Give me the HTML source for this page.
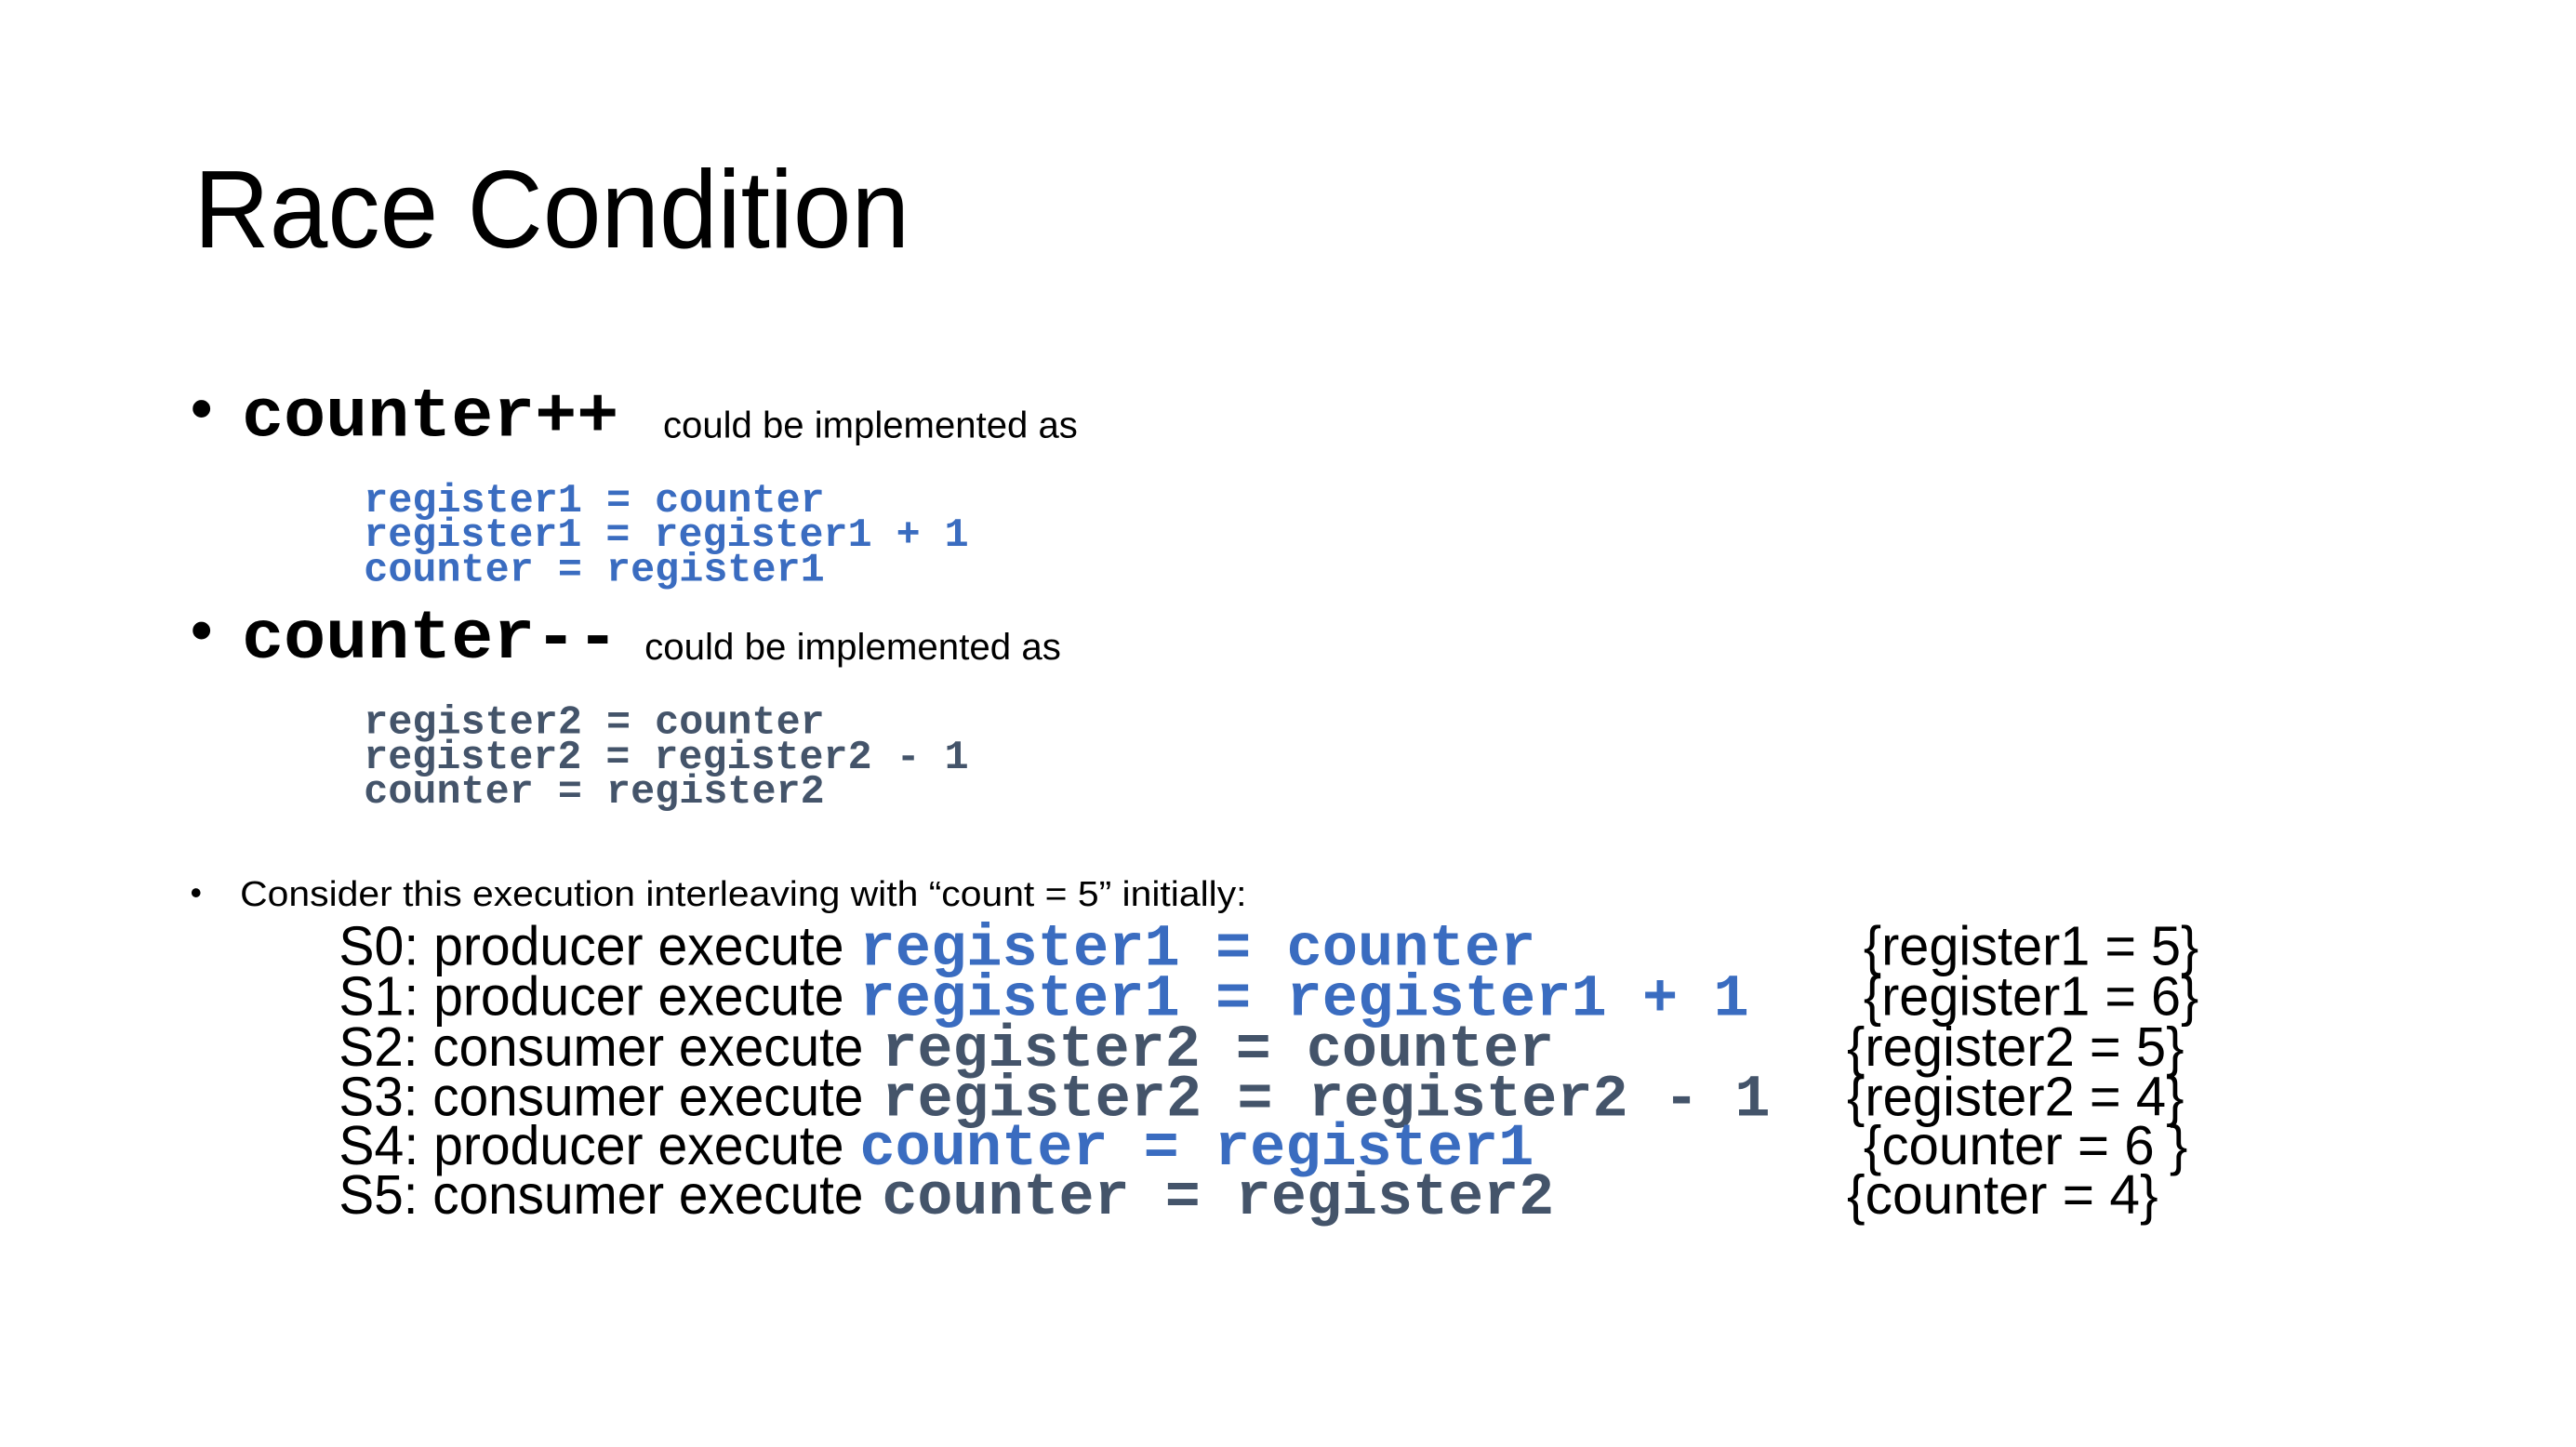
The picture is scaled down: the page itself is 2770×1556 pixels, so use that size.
<!DOCTYPE html>
<html><head><meta charset="utf-8"><style>
html,body{margin:0;padding:0;background:#fff;}
svg{display:block;}
.s{font-family:"Liberation Sans",sans-serif;fill:#000;}
.m{font-family:"Liberation Mono",monospace;font-weight:bold;}
.b{fill:#3a6cc0;}
.g{fill:#44546a;}
</style></head><body>
<svg width="2770" height="1556" viewBox="0 0 2770 1556" xmlns="http://www.w3.org/2000/svg">
<g transform="scale(0.993)">
<text class="s" x="210" y="268" font-size="120" textLength="775" lengthAdjust="spacingAndGlyphs">Race Condition</text>

<text class="s" x="206" y="466" font-size="70">•</text>
<text class="m" x="262" y="472" font-size="75" textLength="408" lengthAdjust="spacingAndGlyphs" fill="#000">counter++</text>
<text class="s" x="718" y="474" font-size="40" textLength="449" lengthAdjust="spacingAndGlyphs">could be implemented as</text>

<text class="m b" x="394" y="554" font-size="44" textLength="499" lengthAdjust="spacingAndGlyphs">register1 = counter</text>
<text class="m b" x="394" y="591" font-size="44" textLength="655" lengthAdjust="spacingAndGlyphs">register1 = register1 + 1</text>
<text class="m b" x="394" y="629" font-size="44" textLength="499" lengthAdjust="spacingAndGlyphs">counter = register1</text>

<text class="s" x="206" y="706" font-size="70">•</text>
<text class="m" x="262" y="712" font-size="75" textLength="408" lengthAdjust="spacingAndGlyphs" fill="#000">counter--</text>
<text class="s" x="698" y="714" font-size="40" textLength="451" lengthAdjust="spacingAndGlyphs">could be implemented as</text>

<text class="m g" x="394" y="794" font-size="44" textLength="499" lengthAdjust="spacingAndGlyphs">register2 = counter</text>
<text class="m g" x="394" y="832" font-size="44" textLength="655" lengthAdjust="spacingAndGlyphs">register2 = register2 - 1</text>
<text class="m g" x="394" y="869" font-size="44" textLength="499" lengthAdjust="spacingAndGlyphs">counter = register2</text>

<text class="s" x="206" y="979" font-size="36">•</text>
<text class="s" x="260" y="981" font-size="38" textLength="1090" lengthAdjust="spacingAndGlyphs">Consider this execution interleaving with “count = 5” initially:</text>

<g font-size="60">
<text class="s" x="367" y="1045" textLength="547" lengthAdjust="spacingAndGlyphs">S0: producer execute</text>
<text class="m b" x="931" y="1045" font-size="64" textLength="732" lengthAdjust="spacingAndGlyphs">register1 = counter</text>
<text class="s" x="2018" y="1045" textLength="363" lengthAdjust="spacingAndGlyphs">{register1 = 5}</text>

<text class="s" x="367" y="1099" textLength="547" lengthAdjust="spacingAndGlyphs">S1: producer execute</text>
<text class="m b" x="931" y="1099" font-size="64" textLength="963" lengthAdjust="spacingAndGlyphs">register1 = register1 + 1</text>
<text class="s" x="2018" y="1099" textLength="363" lengthAdjust="spacingAndGlyphs">{register1 = 6}</text>

<text class="s" x="367" y="1154" textLength="568" lengthAdjust="spacingAndGlyphs">S2: consumer execute</text>
<text class="m g" x="955" y="1154" font-size="64" textLength="728" lengthAdjust="spacingAndGlyphs">register2 = counter</text>
<text class="s" x="2000" y="1154" textLength="365" lengthAdjust="spacingAndGlyphs">{register2 = 5}</text>

<text class="s" x="367" y="1208" textLength="568" lengthAdjust="spacingAndGlyphs">S3: consumer execute</text>
<text class="m g" x="955" y="1208" font-size="64" textLength="962" lengthAdjust="spacingAndGlyphs">register2 = register2 - 1</text>
<text class="s" x="2000" y="1208" textLength="365" lengthAdjust="spacingAndGlyphs">{register2 = 4}</text>

<text class="s" x="367" y="1261" textLength="547" lengthAdjust="spacingAndGlyphs">S4: producer execute</text>
<text class="m b" x="931" y="1261" font-size="64" textLength="730" lengthAdjust="spacingAndGlyphs">counter = register1</text>
<text class="s" x="2018" y="1261" textLength="351" lengthAdjust="spacingAndGlyphs">{counter = 6 }</text>

<text class="s" x="367" y="1314" textLength="568" lengthAdjust="spacingAndGlyphs">S5: consumer execute</text>
<text class="m g" x="955" y="1314" font-size="64" textLength="728" lengthAdjust="spacingAndGlyphs">counter = register2</text>
<text class="s" x="2000" y="1314" textLength="337" lengthAdjust="spacingAndGlyphs">{counter = 4}</text>
</g>
</g>
</svg>
</body></html>
